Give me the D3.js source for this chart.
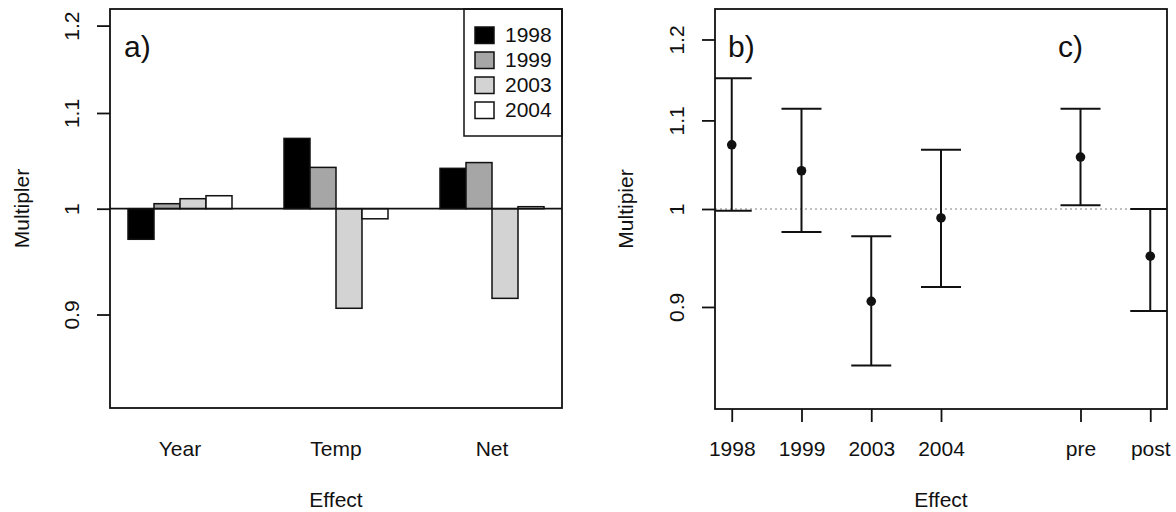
<!DOCTYPE html>
<html>
	<head>
		<script src="https://d3js.org/d3.v7.min.js"></script>
		<style>
			body {
				margin: 0;
				background: #fff;
			}
			text {
				font-family: 'Liberation Sans', Arial, sans-serif;
				fill: #111;
			}
			.frame {
				fill: none;
				stroke: #111;
				stroke-width: 1.8px;
			}
			.tick line {
				stroke: #111;
				stroke-width: 1.8px;
			}
		</style>
	</head>

	<body>
		<svg id="chart" width="1176" height="512"></svg>
		<script>
			// panel a) bar heights per effect, one value per year
			const groups = ['Year', 'Temp', 'Net'];
			const years = ['1998', '1999', '2003', '2004'];
			const barFill = ['#000000', '#a6a6a6', '#d3d3d3', '#ffffff'];
			const yearEffect = [0.97, 1.005, 1.01, 1.013];
			const tempEffect = [1.0725, 1.042, 0.9056, 0.99];
			const netEffect = [1.041, 1.047, 0.9146, 1.002];

			// panels b) and c) estimates with intervals
			const ciLabels = ['1998', '1999', '2003', '2004', 'pre', 'post'];
			const ciPos = [1, 2, 3, 4, 6, 7];
			const ciEst = [1.0715, 1.042, 0.9055, 0.9904, 1.0575, 0.9505];
			const ciLow = [0.998, 0.9756, 0.845, 0.9196, 1.004, 0.896];
			const ciHigh = [1.151, 1.114, 0.971, 1.0658, 1.114, 1.0];

			const yTicks = [0.9, 1, 1.1, 1.2];
			const yTickLabels = ['0.9', '1', '1.1', '1.2'];

			const svg = d3.select('svg#chart');
			const fontSize = 21;

			function yAxis(g, scale) {
				g.call(
					d3
						.axisLeft(scale)
						.tickValues(yTicks)
						.tickFormat((d, i) => yTickLabels[i])
						.tickSize(13)
				);
				g.select('.domain').remove();
				g.selectAll('.tick text')
					.attr('x', 0)
					.attr('dy', '0.35em')
					.attr('text-anchor', 'middle')
					.attr('transform', 'translate(-38,0) rotate(-90)')
					.style('font-size', fontSize + 'px')
					.style('font-family', null);
			}

			// ---------- panel a) ----------
			const a = { left: 110, right: 562, top: 9, bottom: 408 };
			const xGroup = d3
				.scaleBand()
				.domain(groups)
				.range([a.left, a.right])
				.paddingInner(1 / 3)
				.paddingOuter(0.1154);
			const xYear = d3.scaleBand().domain(years).range([0, xGroup.bandwidth()]);
			const yA = d3.scaleLog().domain([0.82, 1.22]).range([a.bottom, a.top]);

			const barData = [];
			[yearEffect, tempEffect, netEffect].forEach((vals, gi) => {
				vals.forEach((v, yi) => barData.push({ group: groups[gi], year: years[yi], fill: barFill[yi], value: v }));
			});

			const panelA = svg.append('g');
			panelA
				.selectAll('rect.bar')
				.data(barData)
				.join('rect')
				.attr('class', 'bar')
				.attr('x', (d) => xGroup(d.group) + xYear(d.year))
				.attr('width', xYear.bandwidth())
				.attr('y', (d) => Math.min(yA(d.value), yA(1)))
				.attr('height', (d) => Math.abs(yA(d.value) - yA(1)))
				.attr('fill', (d) => d.fill)
				.attr('stroke', '#111')
				.attr('stroke-width', 1.5);

			panelA
				.append('line')
				.attr('x1', a.left)
				.attr('x2', a.right)
				.attr('y1', yA(1))
				.attr('y2', yA(1))
				.attr('stroke', '#111')
				.attr('stroke-width', 1.8);

			panelA.append('g').attr('transform', `translate(${a.left},0)`).call(yAxis, yA);

			const xAxisA = panelA
				.append('g')
				.attr('transform', `translate(0,${a.bottom})`)
				.call(d3.axisBottom(xGroup).tickSize(0).tickPadding(33));
			xAxisA.select('.domain').remove();
			xAxisA.selectAll('text').style('font-size', fontSize + 'px').style('font-family', null);

			// legend
			const legend = panelA.append('g');
			legend
				.append('rect')
				.attr('x', 464)
				.attr('y', a.top)
				.attr('width', a.right - 464)
				.attr('height', 127)
				.attr('fill', '#fff')
				.attr('stroke', '#111')
				.attr('stroke-width', 1.5);
			const legendRow = legend
				.selectAll('g.row')
				.data(years)
				.join('g')
				.attr('class', 'row')
				.attr('transform', (d, i) => `translate(475,${35 + i * 25})`);
			legendRow
				.append('rect')
				.attr('x', 0)
				.attr('y', -8)
				.attr('width', 19)
				.attr('height', 16.5)
				.attr('fill', (d, i) => barFill[i])
				.attr('stroke', '#111')
				.attr('stroke-width', 1.5);
			legendRow
				.append('text')
				.attr('x', 30)
				.attr('dy', '0.35em')
				.style('font-size', fontSize + 'px')
				.text((d) => d);

			panelA.append('rect').attr('class', 'frame').attr('x', a.left).attr('y', a.top).attr('width', a.right - a.left).attr('height', a.bottom - a.top);

			panelA.append('text').attr('x', 124).attr('y', 57).style('font-size', '30px').text('a)');
			panelA
				.append('text')
				.attr('transform', `translate(22,${(a.top + a.bottom) / 2}) rotate(-90)`)
				.attr('dy', '0.35em')
				.attr('text-anchor', 'middle')
				.style('font-size', fontSize + 'px')
				.text('Multipler');
			panelA
				.append('text')
				.attr('x', (a.left + a.right) / 2)
				.attr('y', 507)
				.attr('text-anchor', 'middle')
				.style('font-size', fontSize + 'px')
				.text('Effect');

			// ---------- panels b) and c) ----------
			const b = { left: 715, right: 1167, top: 9, bottom: 409 };
			const xB = d3.scaleLinear().domain([0.76, 7.24]).range([b.left, b.right]);
			const yB = d3.scaleLog().domain([1 / 1.24, 1.24]).range([b.bottom, b.top]);

			const panelB = svg.append('g');
			panelB
				.append('line')
				.attr('x1', b.left)
				.attr('x2', b.right)
				.attr('y1', yB(1))
				.attr('y2', yB(1))
				.attr('stroke', '#aaa')
				.attr('stroke-width', 1.5)
				.attr('stroke-dasharray', '2,3');

			const ciData = ciPos.map((p, i) => ({ pos: p, est: ciEst[i], lo: ciLow[i], hi: ciHigh[i] }));
			const bars = panelB.selectAll('g.ci').data(ciData).join('g').attr('class', 'ci');
			bars
				.append('line')
				.attr('x1', (d) => xB(d.pos))
				.attr('x2', (d) => xB(d.pos))
				.attr('y1', (d) => yB(d.lo))
				.attr('y2', (d) => yB(d.hi))
				.attr('stroke', '#111')
				.attr('stroke-width', 2);
			['lo', 'hi'].forEach((k) => {
				bars
					.append('line')
					.attr('x1', (d) => Math.max(b.left, xB(d.pos) - 20))
					.attr('x2', (d) => Math.min(b.right, xB(d.pos) + 20))
					.attr('y1', (d) => yB(d[k]))
					.attr('y2', (d) => yB(d[k]))
					.attr('stroke', '#111')
					.attr('stroke-width', 2);
			});
			bars
				.append('circle')
				.attr('cx', (d) => xB(d.pos))
				.attr('cy', (d) => yB(d.est))
				.attr('r', 4.8)
				.attr('fill', '#111');

			panelB.append('g').attr('transform', `translate(${b.left},0)`).call(yAxis, yB);

			const xAxisB = panelB
				.append('g')
				.attr('transform', `translate(0,${b.bottom})`)
				.call(
					d3
						.axisBottom(xB)
						.tickValues(ciPos)
						.tickFormat((d, i) => ciLabels[i])
						.tickSize(13)
						.tickPadding(19)
				);
			xAxisB.select('.domain').remove();
			xAxisB.selectAll('text').style('font-size', fontSize + 'px').style('font-family', null);

			panelB.append('rect').attr('class', 'frame').attr('x', b.left).attr('y', b.top).attr('width', b.right - b.left).attr('height', b.bottom - b.top);

			panelB.append('text').attr('x', 728).attr('y', 57).style('font-size', '30px').text('b)');
			panelB.append('text').attr('x', 1058).attr('y', 57).style('font-size', '30px').text('c)');
			panelB
				.append('text')
				.attr('transform', `translate(626,${(b.top + b.bottom) / 2}) rotate(-90)`)
				.attr('dy', '0.35em')
				.attr('text-anchor', 'middle')
				.style('font-size', fontSize + 'px')
				.text('Multipier');
			panelB
				.append('text')
				.attr('x', (b.left + b.right) / 2)
				.attr('y', 507)
				.attr('text-anchor', 'middle')
				.style('font-size', fontSize + 'px')
				.text('Effect');
		</script>
	</body>
</html>
